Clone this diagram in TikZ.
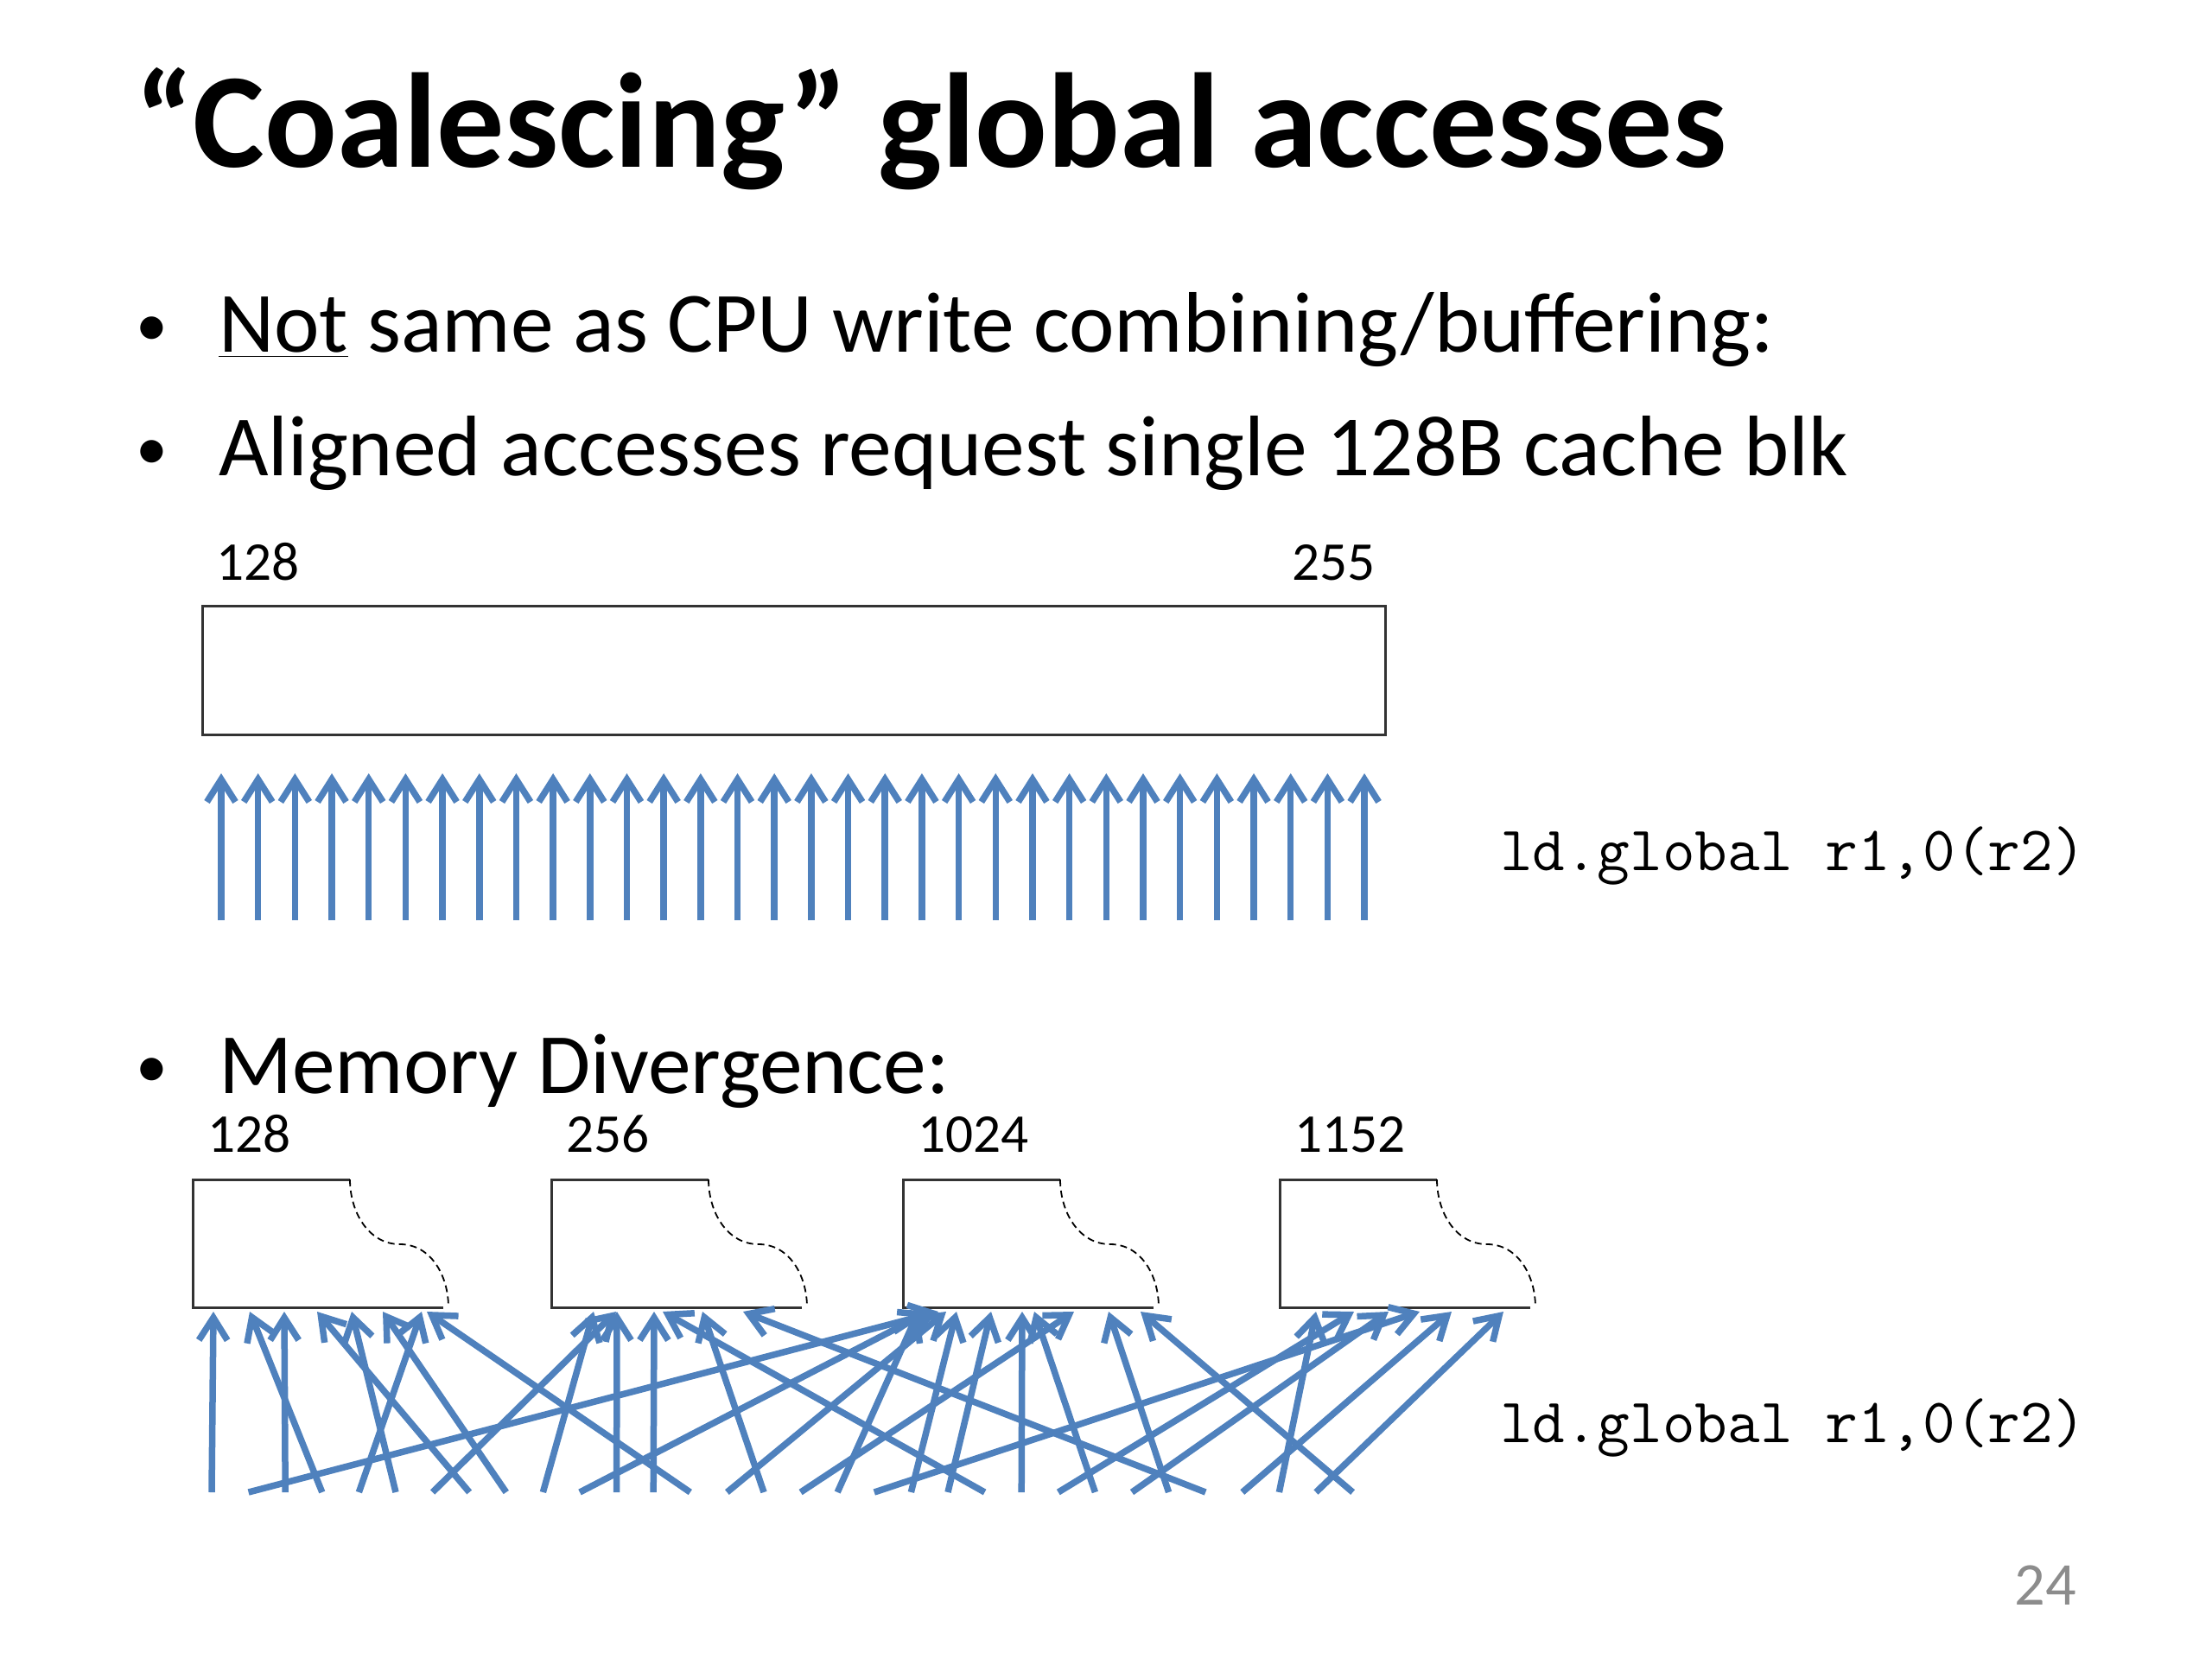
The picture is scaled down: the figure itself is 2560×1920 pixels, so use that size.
\documentclass[tikz,border=0pt]{standalone}
\usepackage{fontspec}
\setmainfont{Carlito}
\usetikzlibrary{arrows.meta,calc}

\definecolor{memblue}{HTML}{4F81BD}
\definecolor{pagegray}{HTML}{8C8C8C}

\begin{document}
\begin{tikzpicture}[x=0.1mm,y=-0.1mm]
  \tikzset{
    txt/.style = {anchor=base west, inner sep=0pt, outer sep=0pt},
    bullet/.style = {txt, font=\fontsize{28.3}{34}\selectfont},
    dot/.style = {txt, font=\fontsize{21}{25}\selectfont},
    addr/.style = {txt, font=\fontsize{18}{22}\selectfont},
    code/.style = {txt, font=\ttfamily\fontsize{20.8}{25}\selectfont},
    memarrow/.style = {draw=memblue, line width=0.75mm,
      -{Straight Barb[length=2.6mm,width=3.3mm]}},
    blk/.style = {draw=black!80, line width=0.3mm},
    cut/.style = {draw=black, line width=0.18mm, dash pattern=on 0.8mm off 0.5mm}
  }
  \useasboundingbox (0,0) rectangle (2560,1920);

  % title and bullets
  \node[txt, font=\bfseries\fontsize{44.4}{53}\selectfont] (title) at (156,193)
    {“Coalescing” global accesses};
  \node[dot] (dot1) at (158,400) {•};
  \node[bullet] (line1) at (253,407)
    {\underline{Not} same as CPU write combining/buffering:};
  \node[dot] (dot2) at (158,543) {•};
  \node[bullet] (line2) at (253,550) {Aligned accesses request single 128B cache blk};
  \node[dot] (dot3) at (158,1258) {•};
  \node[bullet] (line3) at (253,1265) {Memory Divergence:};

  % aligned access: one cache block
  \node[blk, anchor=north west, inner sep=0pt, minimum width=136.9mm,
    minimum height=14.9mm] (cacheblk) at (233,700) {};
  \node[addr] (lo) at (250,671) {128};
  \node[addr, anchor=base east] (hi) at (1592,671) {255};
  \coordinate (toptip) at (0,895);
  \foreach \i in {0,...,31} {
    \coordinate (a\i) at ({256+42.68*\i},1065);
    \draw[memarrow] (a\i) -- (a\i |- toptip);
  }
  \node[code] (ld1) at (1736,1007) {ld.global r1,0(r2)};

  % divergent access: four partial blocks
  \foreach \n/\x/\lbl in {1/223/128, 2/638/256, 3/1045/1024, 4/1481/1152} {
    \begin{scope}[shift={(\x,1513)}]
      \coordinate (b\n) at (0,0);
      \draw[blk] (290,0) -- (0,0) -- (0,-148) -- (182,-148);
      \draw[cut] (182,-148) to[out=-90,in=180] (240,-73) to[out=0,in=90] (296,0);
      \node[addr] (lbl\n) at (17,-180) {\lbl};
    \end{scope}
  }
  \foreach \i in {0,...,31}
    \coordinate (s\i) at ({245+42.6*\i},1727);
  \foreach \s/\b/\dx in {0/1/24, 3/1/66, 2/1/106, 7/1/144, 5/1/184, 8/1/220,
      4/1/265, 13/1/271,
      9/2/49, 6/2/75, 11/2/76, 12/2/119, 21/2/129, 15/2/175, 27/2/222,
      17/3/18, 10/3/30, 1/3/41, 14/3/50, 19/3/62, 20/3/102, 22/3/138,
      24/3/152, 16/3/198, 26/3/238, 31/3/275,
      29/4/42, 23/4/86, 25/4/126, 18/4/162, 28/4/199, 30/4/259}
    \draw[memarrow] (s\s) -- ($(b\b)+(\dx,5)$);
  \node[code] (ld2) at (1736,1669) {ld.global r1,0(r2)};

  \node[txt, anchor=base east, text=pagegray, font=\fontsize{20}{24}\selectfont]
    (pageno) at (2403,1857) {24};
\end{tikzpicture}
\end{document}
